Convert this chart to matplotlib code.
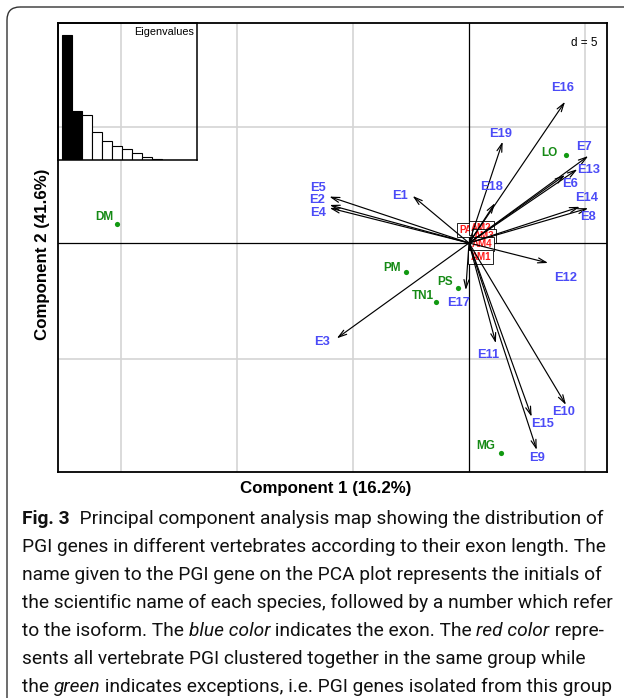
import matplotlib
matplotlib.use("Agg")
import matplotlib.pyplot as plt
from matplotlib.patches import FancyBboxPatch, FancyArrowPatch, ArrowStyle

# ---------------- data ----------------
exon_labels = ["E1", "E2", "E3", "E4", "E5", "E6", "E7", "E8", "E9", "E10",
               "E11", "E12", "E13", "E14", "E15", "E16", "E17", "E18", "E19"]
exon_x = [-2.43, -6.01, -5.70, -6.01, -6.02, 4.14, 5.14, 5.14, 2.92, 4.18,
          1.16, 3.41, 4.67, 4.78, 2.70, 4.14, -0.14, 1.12, 1.45]
exon_y = [2.03, 1.64, -4.11, 1.51, 2.00, 2.93, 3.75, 1.50, -8.92, -6.98,
          -4.32, -0.86, 3.18, 1.56, -7.49, 6.09, -2.03, 1.72, 4.37]
exon_label_x = [-2.97, -6.55, -6.35, -6.51, -6.51, 4.35, 4.96, 5.13, 2.93, 4.09,
                0.82, 4.18, 5.17, 5.09, 3.19, 4.05, -0.47, 0.99, 1.38]
exon_label_y = [2.03, 1.85, -4.25, 1.31, 2.36, 2.54, 4.14, 1.12, -9.27, -7.28,
                -4.83, -1.51, 3.15, 1.94, -7.80, 6.68, -2.59, 2.41, 4.70]

species_labels = ["DM", "LO", "PM", "PS", "TN1", "MG"]
species_x = [-15.18, 4.17, -2.72, -0.49, -1.42, 1.37]
species_y = [0.81, 3.79, -1.24, -1.95, -2.53, -9.04]
species_label_x = [-15.73, 3.45, -3.33, -1.03, -2.00, 0.72]
species_label_y = [1.13, 3.89, -1.09, -1.67, -2.28, -8.74]

cluster_labels = ["PA", "AM2", "AM3", "AM4", "AM1"]
cluster_x = [-0.15, 0.54, 0.65, 0.56, 0.50]
cluster_y = [0.56, 0.65, 0.30, -0.04, -0.62]

eigenvalues = [7.90, 3.08, 2.85, 1.76, 1.22, 0.91, 0.70, 0.45, 0.18, 0.05, 0.02, 0.01, 0.006]
n_kept = 2
grid_d = 5

xlabel = "Component 1 (16.2%)"
ylabel = "Component 2 (41.6%)"

caption = [
    [("Fig. 3", "bold", "normal"), ("  Principal component analysis map showing the distribution of", "normal", "normal")],
    [("PGI genes in different vertebrates according to their exon length. The", "normal", "normal")],
    [("name given to the PGI gene on the PCA plot represents the initials of", "normal", "normal")],
    [("the scientific name of each species, followed by a number which refer", "normal", "normal")],
    [("to the isoform. The ", "normal", "normal"), ("blue color", "normal", "italic"),
     (" indicates the exon. The ", "normal", "normal"), ("red color", "normal", "italic"),
     (" repre-", "normal", "normal")],
    [("sents all vertebrate PGI clustered together in the same group while", "normal", "normal")],
    [("the ", "normal", "normal"), ("green", "normal", "italic"),
     (" indicates exceptions, i.e. PGI genes isolated from this group", "normal", "normal")],
]

# ---------------- figure ----------------
W, H, DPI = 624, 698, 100
fig = plt.figure(figsize=(W / DPI, H / DPI), dpi=DPI)
fig.patch.set_facecolor("white")

bg = fig.add_axes([0, 0, 1, 1], zorder=-5)
bg.set_xlim(0, W)
bg.set_ylim(H, 0)
bg.axis("off")
frame = FancyBboxPatch((7, 7), 660, 705, boxstyle="round,pad=0,rounding_size=13",
                       fc="none", ec="#333333", lw=1.0)
bg.add_patch(frame)

# main axes  (pixel box 58..607 x 23..472)
L, R, T, B = 58, 607, 23, 472
ax = fig.add_axes([L / W, 1 - B / H, (R - L) / W, (B - T) / H])
ax.set_xlim(-17.716, 5.948)
ax.set_ylim(-9.871, 9.483)
ax.set_xticks([])
ax.set_yticks([])
for s in ax.spines.values():
    s.set_linewidth(1.3)
    s.set_color("black")

grid_col = "#d4d4d4"
for g in range(-20, 10, grid_d):
    if ax.get_xlim()[0] < g < ax.get_xlim()[1] and g != 0:
        ax.axvline(g, color=grid_col, lw=1.2, zorder=0)
for g in range(-10, 15, grid_d):
    if ax.get_ylim()[0] < g < ax.get_ylim()[1] and g != 0:
        ax.axhline(g, color=grid_col, lw=1.2, zorder=0)
ax.axvline(0, color="black", lw=0.9, zorder=1)
ax.axhline(0, color="black", lw=0.9, zorder=1)

ax.text(0.982, 0.955, "d = %d" % grid_d, transform=ax.transAxes, ha="right", va="center",
        fontsize=8.5, family="Liberation Sans")

# clustered red labels
for lab, x, y in zip(cluster_labels, cluster_x, cluster_y):
    ax.text(x, y, lab, color="#ff1a1a", fontsize=7, fontweight="bold", family="Liberation Sans",
            ha="center", va="center", zorder=2,
            bbox=dict(boxstyle="square,pad=0.2", fc="white", ec="black", lw=0.6))

# arrows
astyle = ArrowStyle("->", head_length=0.6, head_width=0.18)
for x, y in zip(exon_x, exon_y):
    arr = FancyArrowPatch((0, 0), (x, y), arrowstyle=astyle, mutation_scale=10,
                          lw=0.85, color="black", shrinkA=0, shrinkB=0, zorder=3)
    ax.add_patch(arr)
for lab, x, y in zip(exon_labels, exon_label_x, exon_label_y):
    ax.text(x, y, lab, color="#4b4bf7", fontsize=9.3, fontweight="bold", family="Liberation Sans",
            ha="center", va="center", zorder=4)

# species points
ax.scatter(species_x, species_y, s=14, color="#119911", zorder=4, linewidths=0)
for lab, x, y in zip(species_labels, species_label_x, species_label_y):
    ax.text(x, y, lab, color="#158a15", fontsize=8.5, fontweight="bold", family="Liberation Sans",
            ha="center", va="center", zorder=4)

# eigenvalue inset (pixel box 58..197 x 23..160)
iL, iR, iT, iB = 58, 197, 23, 160
ins = fig.add_axes([iL / W, 1 - iB / H, (iR - iL) / W, (iB - iT) / H])
ins.patch.set_alpha(0)
n = len(eigenvalues)
cols = ["black" if i < n_kept else "white" for i in range(n)]
ins.bar(range(n), eigenvalues, width=1.0, color=cols, edgecolor="black", lw=0.8)
ins.set_xlim(-0.9, n)
ins.set_ylim(0, eigenvalues[0] * 137 / 125)
ins.set_xticks([])
ins.set_yticks([])
for s in ins.spines.values():
    s.set_linewidth(1.1)
ins.text(0.975, 0.935, "Eigenvalues", transform=ins.transAxes, ha="right", va="center",
         fontsize=7.8, family="Liberation Sans")

# axis titles
bg.text(326, 488, xlabel, ha="center", va="center", fontsize=12.2, fontweight="bold",
        family="Liberation Sans")
bg.text(43, 254, ylabel, ha="center", va="center", rotation=90, fontsize=12.2,
        fontweight="bold", family="Liberation Sans")

# caption
cap_family = ["Roboto", "DejaVu Sans"]
renderer = fig.canvas.get_renderer()


def seg_width(txt, size, weight, style):
    t1 = bg.text(0, 0, txt + "x", fontsize=size, family=cap_family, fontweight=weight, fontstyle=style)
    t2 = bg.text(0, 0, "x", fontsize=size, family=cap_family, fontweight=weight, fontstyle=style)
    w = t1.get_window_extent(renderer).width - t2.get_window_extent(renderer).width
    t1.remove()
    t2.remove()
    return w


w10 = sum(seg_width(t, 10, wt, st) for t, wt, st in caption[0])
cap_size = 10 * 583 / w10

x0, y0, dy = 22, 524, 28
for i, line in enumerate(caption):
    x = x0
    for txt, wt, st in line:
        bg.text(x, y0 + i * dy, txt, fontsize=cap_size, family=cap_family, fontweight=wt,
                fontstyle=st, ha="left", va="baseline", color="#111111")
        x += seg_width(txt, cap_size, wt, st)

fig.savefig("out.png", dpi=DPI)
